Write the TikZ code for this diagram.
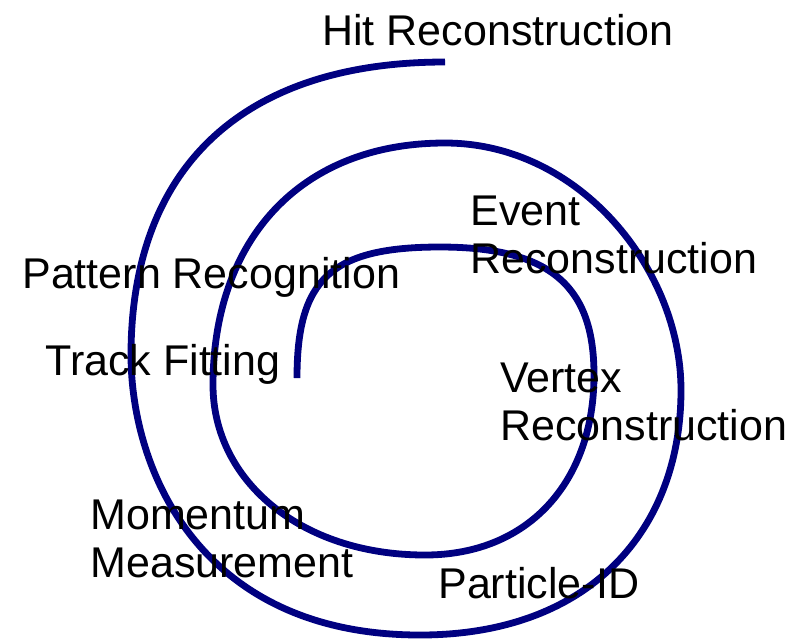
\documentclass[tikz,border=0pt]{standalone}
\usepackage{fontspec}
\setmainfont{Liberation Sans}
\usetikzlibrary{positioning}
\definecolor{spiralnavy}{RGB}{0,0,128}

\begin{document}
\begin{tikzpicture}[x=0.5pt,y=-0.5pt,
  stage/.style={anchor=base west, align=left, inner sep=0pt,
                font=\fontsize{21.5}{23.7}\selectfont},
  spiral/.style={spiralnavy, line width=3.4pt}]

% ── Canvas (pixel units, y pointing down) ───────────────────────────────────
\useasboundingbox (0,0) rectangle (807,639);

% ── Spiral turning points ───────────────────────────────────────────────────
\coordinate (s0) at (297,378);   % inner end
\coordinate (s1) at (440,247);   % top, inner turn
\coordinate (s2) at (594,375);   % right, inner turn
\coordinate (s3) at (425,555);   % bottom, middle turn
\coordinate (s4) at (213,385);   % left, middle turn
\coordinate (s5) at (445,143);   % top, middle turn
\coordinate (s6) at (681,390);   % right, outer turn
\coordinate (s7) at (420,635);   % bottom, outer turn
\coordinate (s8) at (131,355);   % left, outer turn
\coordinate (s9) at (445,62);    % outer end

\draw[spiral]
  (s0) .. controls (297,280) and (330,247) .. (s1)
       .. controls (555,247) and (594,290) .. (s2)
       .. controls (594,480) and (530,555) .. (s3)
       .. controls (300,555) and (213,480) .. (s4)
       .. controls (213,240) and (300,143) .. (s5)
       .. controls (580,143) and (681,270) .. (s6)
       .. controls (681,530) and (590,635) .. (s7)
       .. controls (200,635) and (131,470) .. (s8)
       .. controls (131,170) and (240,62) .. (s9);

% ── Stage labels (anchored on the last baseline) ────────────────────────────
\node[stage] (hit)      at (322,45)  {Hit Reconstruction};
\node[stage] (event)    at (470,273) {Event\\Reconstruction};
\node[stage] (pattern)  at (22,288)  {Pattern Recognition};
\node[stage] (track)    at (45,375)  {Track Fitting};
\node[stage] (vertex)   at (500,440) {Vertex\\Reconstruction};
\node[stage] (momentum) at (90,577)  {Momentum\\Measurement};
\node[stage] (pid)      at (438,598) {Particle-ID};

\end{tikzpicture}
\end{document}
